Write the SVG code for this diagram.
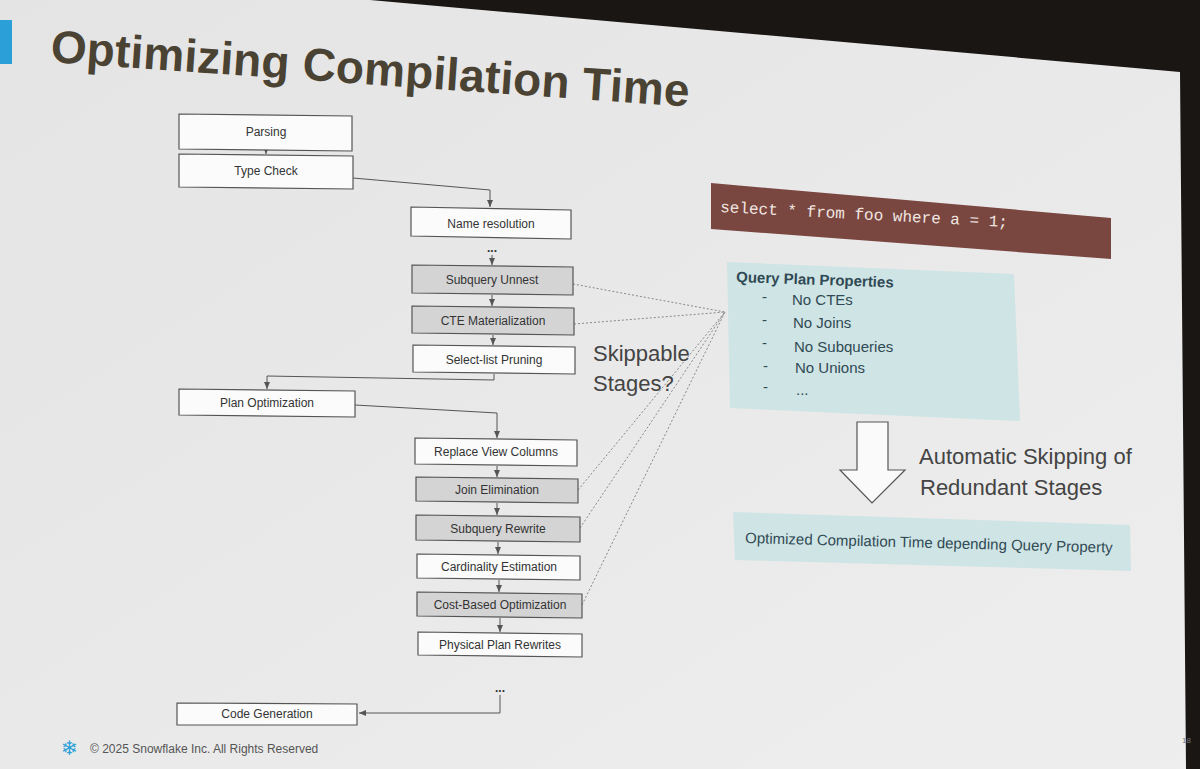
<svg xmlns="http://www.w3.org/2000/svg" width="1200" height="769" viewBox="0 0 1200 769">
<defs>
<linearGradient id="bg" x1="0" y1="0" x2="1" y2="1"><stop offset="0" stop-color="#e4e4e4"/><stop offset="1" stop-color="#eeeeee"/></linearGradient>
<marker id="ar" markerWidth="8" markerHeight="8" refX="7" refY="4" orient="auto"><path d="M0,1 L7,4 L0,7 z" fill="#555"/></marker>
<style>
.b{fill:#fbfbfb;stroke:#555;stroke-width:1.2}
.g{fill:#d4d4d4;stroke:#555;stroke-width:1.2}
.t{font-family:"Liberation Sans",Arial,sans-serif;font-size:12px;fill:#333;text-anchor:middle}
.c{fill:none;stroke:#555;stroke-width:1}
.d{fill:none;stroke:#888;stroke-width:1;stroke-dasharray:2 2}
.q{font-family:"Liberation Sans",Arial,sans-serif;font-size:15px;fill:#2f4a55}
.k{font-family:"Liberation Sans",Arial,sans-serif;font-size:22px;fill:#444}
</style>
</defs>
<rect width="1200" height="769" fill="url(#bg)"/>
<polygon points="370,0 1200,0 1200,769 1186,769 1180,72" fill="#1a1614"/>
<rect x="0" y="20" width="12" height="44" fill="#2a9fd8"/>
<text x="50" y="62" transform="rotate(4 50 62)" font-family="Liberation Sans,Arial,sans-serif" font-weight="bold" font-size="46" fill="#4a4232" textLength="640">Optimizing Compilation Time</text>
<g id="connectors">
<line class="c" x1="266" y1="150" x2="266" y2="154" marker-end="url(#ar)"/>
<polyline class="c" points="353,178 490,190 490,207" marker-end="url(#ar)"/>
<line class="c" x1="492" y1="255" x2="492" y2="265" marker-end="url(#ar)"/>
<line class="c" x1="492" y1="295" x2="492" y2="306" marker-end="url(#ar)"/>
<line class="c" x1="493" y1="335" x2="493" y2="345" marker-end="url(#ar)"/>
<polyline class="c" points="494,374 494,380 267,376 267,389" marker-end="url(#ar)"/>
<polyline class="c" points="355,405 497,413 497,438" marker-end="url(#ar)"/>
<line class="c" x1="497" y1="466" x2="497" y2="477" marker-end="url(#ar)"/>
<line class="c" x1="497" y1="503" x2="497" y2="515" marker-end="url(#ar)"/>
<line class="c" x1="498" y1="542" x2="498" y2="554" marker-end="url(#ar)"/>
<line class="c" x1="499" y1="580" x2="499" y2="592" marker-end="url(#ar)"/>
<line class="c" x1="500" y1="618" x2="500" y2="632" marker-end="url(#ar)"/>
<polyline class="c" points="500,695 500,713 359,713" marker-end="url(#ar)"/>
<line class="d" x1="573" y1="284" x2="725" y2="312"/>
<line class="d" x1="574" y1="324" x2="725" y2="312"/>
<line class="d" x1="578" y1="490" x2="725" y2="312"/>
<line class="d" x1="580" y1="528" x2="725" y2="312"/>
<line class="d" x1="582" y1="605" x2="725" y2="312"/>
</g>
<g id="parsing"><polygon class="b" points="179,114 352,116 352,151 179,149"/><text class="t" x="266" y="136">Parsing</text></g>
<g id="typecheck"><polygon class="b" points="179,154 353,156 353,189 179,187"/><text class="t" x="266" y="175">Type Check</text></g>
<g id="nameres"><polygon class="b" points="411,207 571,210 571,239 411,236"/><text class="t" x="491" y="228">Name resolution</text></g>
<text class="t" x="492" y="252" font-weight="bold">...</text>
<g id="unnest"><polygon class="g" points="412,265 573,267 573,295 412,293"/><text class="t" x="492" y="284">Subquery Unnest</text></g>
<g id="cte"><polygon class="g" points="412,306 574,308 574,335 412,333"/><text class="t" x="493" y="325">CTE Materialization</text></g>
<g id="prune"><polygon class="b" points="413,345 575,347 575,374 413,372"/><text class="t" x="494" y="364">Select-list Pruning</text></g>
<g id="planopt"><polygon class="b" points="179,389 355,391 355,417 179,415"/><text class="t" x="267" y="407">Plan Optimization</text></g>
<g id="replace"><polygon class="b" points="415,438 577,440 577,466 415,464"/><text class="t" x="496" y="456">Replace View Columns</text></g>
<g id="joinelim"><polygon class="g" points="416,477 578,479 578,503 416,501"/><text class="t" x="497" y="494">Join Elimination</text></g>
<g id="subrewrite"><polygon class="g" points="416,515 580,517 580,542 416,540"/><text class="t" x="498" y="533">Subquery Rewrite</text></g>
<g id="card"><polygon class="b" points="417,554 580,556 580,580 417,578"/><text class="t" x="499" y="571">Cardinality Estimation</text></g>
<g id="cbo"><polygon class="g" points="417,592 582,594 582,618 417,616"/><text class="t" x="500" y="609">Cost-Based Optimization</text></g>
<g id="physical"><polygon class="b" points="418,632 582,634 582,657 418,655"/><text class="t" x="500" y="649">Physical Plan Rewrites</text></g>
<text class="t" x="500" y="692" font-weight="bold">...</text>
<g id="codegen"><polygon class="b" points="177,703 357,704 357,725 177,725"/><text class="t" x="267" y="718">Code Generation</text></g>
<text class="k" x="593" y="361" font-size="23">Skippable</text>
<text class="k" x="593" y="391" font-size="23">Stages?</text>
<g id="sql"><polygon points="711,183 1111,218 1111,259 711,229" fill="#7a4640"/><text x="720" y="212" transform="rotate(3 720 212)" font-family="Liberation Mono,monospace" font-size="16" fill="#f0e6e0">select * from foo where a = 1;</text></g>
<g id="props"><polygon points="727,262 1014,274 1020,421 730,408" fill="#cfe4e4"/>
<text class="q" x="736" y="282" font-weight="bold" font-size="14" transform="rotate(2 736 282)">Query Plan Properties</text>
<text class="q" x="762" y="302">-</text><text class="q" x="792" y="305">No CTEs</text>
<text class="q" x="762" y="325">-</text><text class="q" x="793" y="328">No Joins</text>
<text class="q" x="762" y="348">-</text><text class="q" x="794" y="352">No Subqueries</text>
<text class="q" x="763" y="371">-</text><text class="q" x="795" y="373">No Unions</text>
<text class="q" x="763" y="392">-</text><text class="q" x="796" y="395">...</text></g>
<g id="downarrow"><polygon points="857,422 888,422 888,470 905,470 872,503 840,470 857,470" fill="#fafafa" stroke="#555" stroke-width="1.2"/></g>
<text class="k" x="919" y="464">Automatic Skipping of</text>
<text class="k" x="920" y="495">Redundant Stages</text>
<g id="optimized"><polygon points="733,512 1130,525 1131,571 735,560" fill="#cfe4e4"/><text class="q" x="745" y="543" font-size="14" transform="rotate(1.5 745 543)">Optimized Compilation Time depending Query Property</text></g>
<text x="61" y="755" font-family="DejaVu Sans,sans-serif" font-size="20" fill="#2a9fd8">❄</text>
<text x="90" y="753" font-family="Liberation Sans,Arial,sans-serif" font-size="12" fill="#555">© 2025 Snowflake Inc. All Rights Reserved</text>
<text x="1182" y="743" font-family="Liberation Sans,Arial,sans-serif" font-size="8" fill="#777">18</text>
</svg>
